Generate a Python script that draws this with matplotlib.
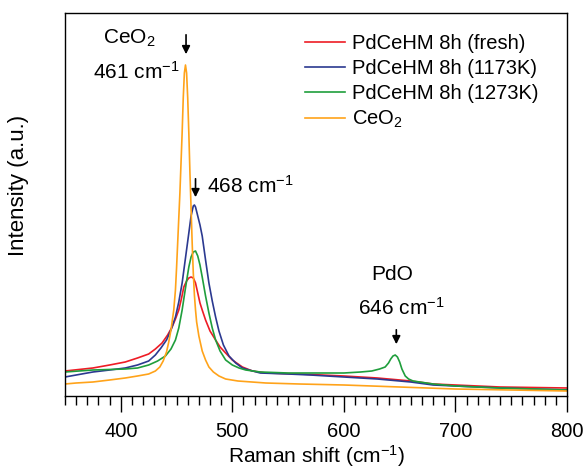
import matplotlib
matplotlib.use('Agg')
import matplotlib.pyplot as plt
from matplotlib.ticker import MultipleLocator

plt.rcParams['font.family'] = ['Liberation Sans', 'DejaVu Sans']
plt.rcParams['mathtext.fontset'] = 'custom'
plt.rcParams['mathtext.rm'] = 'Liberation Sans'
plt.rcParams['mathtext.default'] = 'regular'

# Raman spectra (intensity in arbitrary units)
x_fresh = [350, 375, 390, 404, 415, 425, 431, 437, 442, 446, 449, 452, 454.5, 456.5, 459,
           461, 463, 465, 467, 469, 471, 473, 476, 480, 485, 489, 494, 500, 509, 518,
           530, 560, 600, 630, 660, 680, 700, 740, 800]
y_fresh = [27, 30, 33, 36, 40, 44, 49, 55, 63, 71, 79, 88, 100, 111, 117,
           120, 121, 120, 115, 105, 95, 88, 78, 67, 58, 51, 45, 38, 31, 27,
           25, 24, 22, 20, 17, 14, 13, 11, 10]

x_1173 = [350, 360, 375, 390, 404, 415, 425, 431, 436, 441, 445, 449, 452, 455, 458,
          461, 463, 465, 466, 467, 469, 471, 473, 476, 479, 482, 485, 488, 492, 497,
          503, 509, 515, 525, 550, 570, 600, 630, 660, 680, 700, 740, 770, 800]
y_1173 = [21, 23, 26, 28, 30, 33, 37, 43, 50, 58, 68, 81, 96, 115, 140,
          165, 182, 192, 193, 191, 182, 173, 162, 138, 115, 97, 81, 67, 53, 42,
          35, 30, 28, 25, 24, 23, 21, 19, 16, 13, 12, 10, 9, 8]

x_1273 = [350, 375, 404, 415, 425, 433, 440, 445, 449, 452, 455, 458, 461, 463, 465,
          467, 469, 471, 473, 476, 479, 482, 485, 489, 494, 500, 506, 512, 525, 550,
          580, 600, 615, 625, 632, 637, 640, 642, 644, 646, 648, 650, 652, 655, 658,
          662, 680, 700, 740, 800]
y_1273 = [26, 28, 29, 30, 33, 37, 42, 49, 58, 70, 88, 110, 131, 141, 146,
          147, 142, 133, 121, 102, 85, 70, 58, 47, 38, 33, 30, 28, 26, 25,
          25, 25, 26, 27, 29, 31, 35, 39, 42, 43, 41, 36, 29, 22, 19,
          17, 14, 12, 10, 8]

x_ceo2 = [350, 360, 375, 390, 404, 415, 425, 431, 435, 438, 441, 443, 445, 447.5, 449,
          450, 451, 452, 453, 454, 455, 456, 457, 458, 459, 460, 461, 462, 463, 464,
          465, 466, 467, 468, 470, 473, 476, 479, 483, 488, 494, 505, 530, 560, 600,
          650, 700, 750, 800]
y_ceo2 = [14, 15, 16, 18, 20, 22, 24, 27, 31, 37, 46, 56, 68, 88, 108,
          130, 155, 180, 205, 235, 265, 300, 325, 333, 325, 300, 265, 225, 190, 155,
          125, 103, 88, 76, 62, 47, 38, 31, 26, 22, 19, 17, 15, 14, 13,
          11, 9, 8, 7]

labels = ['PdCeHM 8h (fresh)', 'PdCeHM 8h (1173K)', 'PdCeHM 8h (1273K)', 'CeO$_2$']
colors = ['#ee1c25', '#2b3990', '#1f9e3c', '#ffa31a']

fig = plt.figure(figsize=(5.86, 4.72), dpi=100)
ax = fig.add_axes([65 / 586, 1 - 396 / 472, 502 / 586, 383 / 472])

ax.plot(x_fresh, y_fresh, color=colors[0], lw=1.2, label=labels[0])
ax.plot(x_1173, y_1173, color=colors[1], lw=1.2, label=labels[1])
ax.plot(x_1273, y_1273, color=colors[2], lw=1.2, label=labels[2])
ax.plot(x_ceo2, y_ceo2, color=colors[3], lw=1.2, label=labels[3])

ax.set_xlim(350, 800)
ax.set_ylim(2, 385)
ax.xaxis.set_major_locator(MultipleLocator(100))
ax.xaxis.set_minor_locator(MultipleLocator(10))
ax.tick_params(axis='x', which='major', direction='out', length=11.5, width=1, labelsize=14.5, pad=7)
ax.tick_params(axis='x', which='minor', direction='out', length=6.5, width=1)
ax.set_yticks([])
for s in ax.spines.values():
    s.set_linewidth(1)

ax.set_xlabel('Raman shift (cm$^{-1}$)', fontsize=15, labelpad=2)
ax.set_ylabel('Intensity (a.u.)', fontsize=16)
ax.yaxis.set_label_coords(-0.072, 0.55)

ax.legend(loc='upper left', bbox_to_anchor=(0.478, 0.945), frameon=False, fontsize=14.5,
          handlelength=2.0, labelspacing=0.3, borderaxespad=0, borderpad=0,
          handletextpad=0.35)

# peak annotations
ax.text(407.7, 360, 'CeO$_2$', fontsize=15, ha='center', va='center')
ax.text(414, 326, '461 cm$^{-1}$', fontsize=15, ha='center', va='center')
ax.annotate('', xy=(458.5, 341), xytext=(458.5, 366),
            arrowprops=dict(arrowstyle='-|>', color='k', lw=1.2, mutation_scale=12))

ax.text(477, 212, '468 cm$^{-1}$', fontsize=15, ha='left', va='center')
ax.annotate('', xy=(467, 198), xytext=(467, 222),
            arrowprops=dict(arrowstyle='-|>', color='k', lw=1.2, mutation_scale=12))

ax.text(643.4, 123, 'PdO', fontsize=15, ha='center', va='center')
ax.text(651.5, 90, '646 cm$^{-1}$', fontsize=15, ha='center', va='center')
ax.annotate('', xy=(647, 51), xytext=(647, 71),
            arrowprops=dict(arrowstyle='-|>', color='k', lw=1.2, mutation_scale=12))

fig.savefig('out.png', dpi=100)
